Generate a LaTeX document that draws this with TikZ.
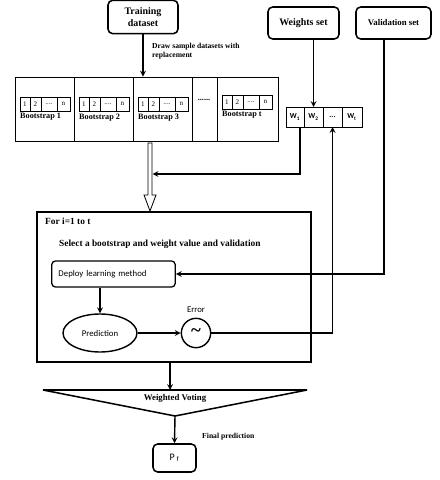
\documentclass[tikz,border=0pt]{standalone}
\usepackage{fontspec}
\setmainfont{Liberation Serif}
\newfontfamily\calfont{Carlito}
\usetikzlibrary{positioning,shapes.geometric}
\begin{document}
\begin{tikzpicture}[x=0.03cm,y=-0.03cm,>=stealth,
  inbox/.style={draw,rounded corners=4pt,line width=1.3pt,align=center,
    font=\bfseries\fontsize{8.5}{10}\selectfont},
  cell/.style={draw,line width=.6pt,outer sep=0pt,inner sep=0pt,minimum height=.42cm,
    font=\fontsize{6}{6}\selectfont},
  wcell/.style={cell,minimum height=.6cm,font=\calfont\bfseries\fontsize{6.5}{7}\selectfont},
  procbox/.style={draw,rounded corners=3pt,line width=1.1pt,
    font=\calfont\fontsize{7.5}{9}\selectfont},
  note/.style={align=left,inner sep=0pt,font=\bfseries\fontsize{6.5}{8}\selectfont},
  flow/.style={->,line width=1.2pt},
  link/.style={line width=1.2pt}]
\useasboundingbox (0,0) rectangle (439,480);
% inputs
\node[inbox,minimum width=2.1cm,minimum height=1cm] (train) at (143,17) {Training\\dataset};
\node[inbox,minimum width=2.13cm,minimum height=.96cm] (weights) at (303.5,23) {Weights set};
\node[inbox,minimum width=2.25cm,minimum height=.96cm,font=\bfseries\fontsize{7.5}{9}\selectfont] (valid) at (393.5,23) {Validation set};
% bootstrap samples
\node[draw,line width=.8pt,inner sep=0pt,minimum width=7.89cm,minimum height=1.92cm] (boot) at (146.5,109) {};
\foreach \x in {74,133,192,217}
  \draw[line width=.8pt] (\x,77) -- (\x,141);
\foreach \b/\x/\y in {1/20/97,2/79/97,3/138/97,t/222/95}{
  \node[cell,minimum width=.3cm,anchor=north west] (b\b c1) at (\x,\y) {1};
  \node[cell,minimum width=.33cm,right=0pt of b\b c1] (b\b c2) {2};
  \node[cell,minimum width=.48cm,right=0pt of b\b c2] (b\b c3) {....};
  \node[cell,minimum width=.39cm,right=0pt of b\b c3] (b\b c4) {n};
  \node[note,anchor=north west,font=\bfseries\fontsize{7}{8}\selectfont] (b\b lab) at ([yshift=-2pt]b\b c1.south west) {Bootstrap \b};
}
\node[font=\bfseries\fontsize{7}{7}\selectfont] (bdots) at (204,100) {......};
\node[note,anchor=north west] (drawnote) at (152,43) {Draw sample datasets with\\replacement};
\draw[flow] (train.south) -- (train.south |- boot.north);
% weight vector
\node[wcell,minimum width=.54cm,anchor=north west] (w1) at (286,107) {W\textsubscript{1}};
\node[wcell,minimum width=.57cm,right=0pt of w1] (w2) {W\textsubscript{2}};
\node[wcell,minimum width=.57cm,right=0pt of w2] (w3) {...};
\node[wcell,minimum width=.6cm,right=0pt of w3] (wt) {W\textsubscript{t}};
\draw[flow] (w2.north |- weights.south) -- (w2.north);
% hollow arrow into the loop
\draw[line width=.7pt] (148,143) -- (148,195) -- (144,195) -- (150,211) -- (156,195) -- (152,195) -- (152,143) -- cycle;
\coordinate (dblR) at (152.5,174);
\coordinate (wbend) at (300,174);
\draw[flow] (w1.south -| wbend) -- (wbend) -- (dblR);
% loop box
\node[draw,line width=1.3pt,inner sep=0pt,minimum width=8.22cm,minimum height=4.5cm] (loop) at (174,287) {};
\node[note,anchor=north west,font=\bfseries\fontsize{8}{9}\selectfont] (forlbl) at (45,218) {For i=1 to t};
\node[note,anchor=north west,font=\bfseries\fontsize{8}{9}\selectfont] (sellbl) at (59,240) {Select a bootstrap and weight value and validation};
\node[procbox,minimum height=.78cm,text width=3.3cm,inner xsep=.2cm,align=left] (deploy) at (113.5,274) {Deploy learning method};
\node[draw,ellipse,line width=1.2pt,minimum width=2.22cm,minimum height=1.14cm,
  font=\calfont\fontsize{7.5}{9}\selectfont] (pred) at (100,333) {Prediction};
\node[draw,circle,line width=1.2pt,minimum size=.88cm,inner sep=0pt,font=\bfseries\fontsize{16}{16}\selectfont] (err) at (196,333) {\raisebox{-2pt}{\textasciitilde}};
\node[above=1pt of err,font=\calfont\fontsize{7.5}{9}\selectfont] (errlbl) {Error};
\draw[flow] (deploy.south -| pred.north) -- (pred.north);
\draw[flow] (pred.east) -- (err.west);
\draw[flow] (err.east) -| (w3.south);
\coordinate (vbend) at (384,274);
\draw[flow] (valid.south -| vbend) -- (vbend) -- (deploy.east);
% voting
\coordinate (vl) at (43,390);
\coordinate (vr) at (307,390);
\coordinate (vapex) at (175,416);
\coordinate (vtop) at (170,390);
\draw[line width=1.3pt] (vl) -- (vr) -- (vapex) -- cycle;
\node[font=\bfseries\fontsize{7.5}{9}\selectfont] (vote) at (175,398) {Weighted Voting};
\draw[flow] (loop.south -| vtop) -- (vtop);
\node[inbox,minimum width=1.29cm,minimum height=.84cm,font=\calfont\fontsize{8.5}{10}\selectfont] (pf) at (174.5,458) {P\,\textsubscript{f}};
\draw[flow] (vapex) -- (pf.north);
\node[note,anchor=west] (finallbl) at (202,437) {Final prediction};
\end{tikzpicture}
\end{document}
